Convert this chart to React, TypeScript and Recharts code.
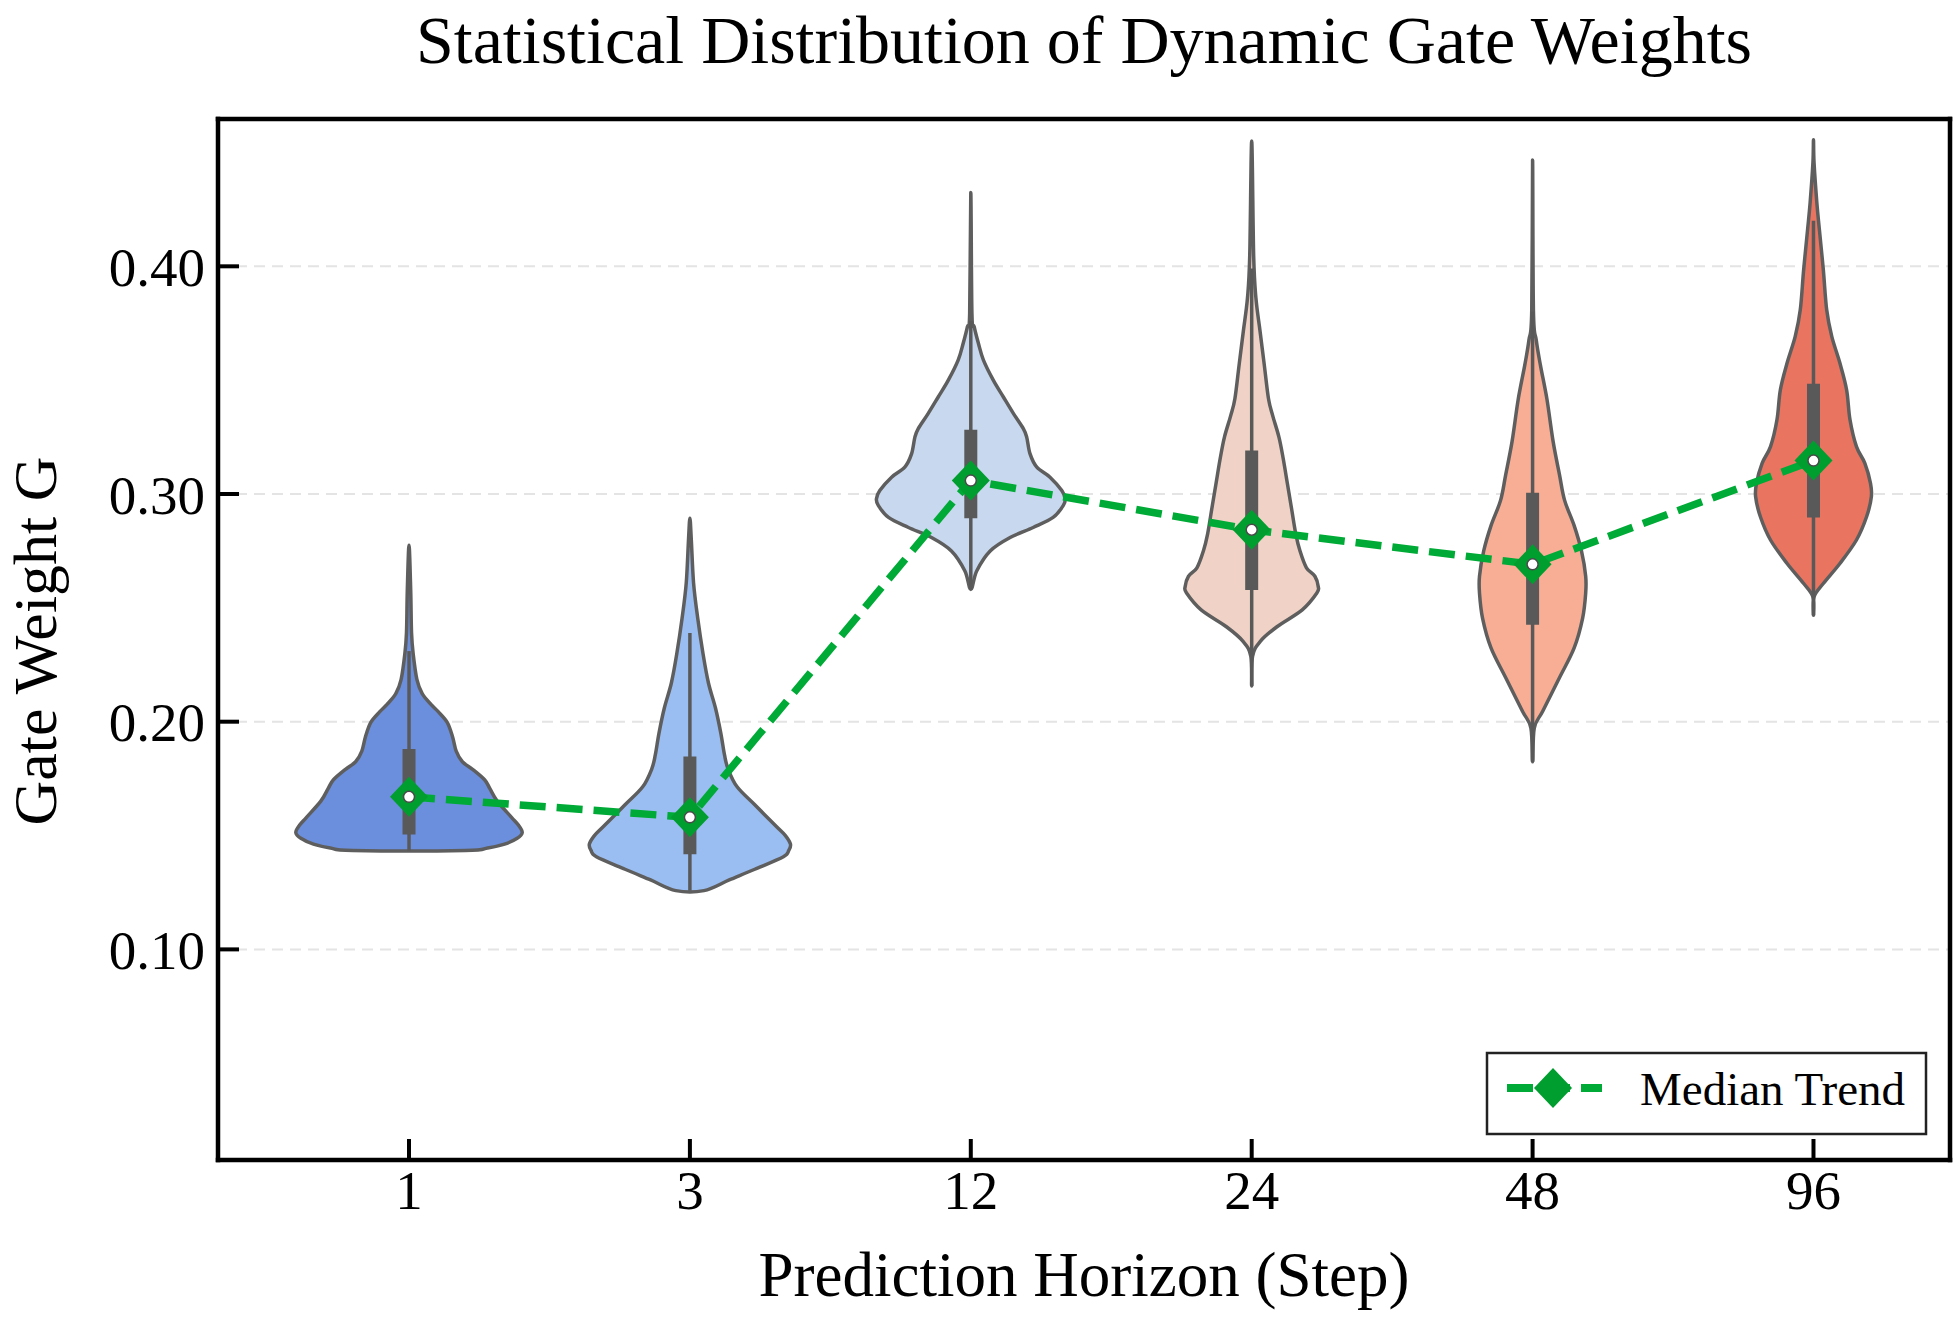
import React from "react";
import { ComposedChart, Scatter, XAxis, YAxis, CartesianGrid, Customized } from "recharts";

const horizons = ["1", "3", "12", "24", "48", "96"];
const violinColors = ["#6b8fdc", "#9bbef2", "#c8d8ee", "#f0d3c6", "#f8ae95", "#e97561"];

// medians and box / whisker extents per horizon
const medians = [0.167, 0.158, 0.3059, 0.2843, 0.2691, 0.3147];
const q1 = [0.1505, 0.1418, 0.2894, 0.2578, 0.2426, 0.2897];
const q3 = [0.188, 0.1847, 0.3282, 0.3191, 0.3006, 0.3484];
const whiskerLow = [0.1434, 0.1258, 0.2581, 0.2157, 0.1824, 0.2468];
const whiskerHigh = [0.231, 0.239, 0.376, 0.399, 0.38, 0.42];

// violin outlines: [gate weight, half width in category units], bottom to top
const violin1 = [
  [0.1434, 0.2], [0.1445, 0.28], [0.1462, 0.34], [0.1488, 0.385], [0.1513, 0.403],
  [0.1545, 0.39], [0.158, 0.365], [0.1651, 0.314], [0.1706, 0.288], [0.1745, 0.269],
  [0.1792, 0.225], [0.1824, 0.19], [0.1871, 0.168], [0.1934, 0.155], [0.1997, 0.136],
  [0.2044, 0.104], [0.2075, 0.079], [0.2123, 0.047], [0.2186, 0.028], [0.2296, 0.015],
  [0.239, 0.009], [0.2579, 0.006], [0.2775, 0],
];
const violin3 = [
  [0.1258, 0.05], [0.1305, 0.14], [0.1352, 0.231], [0.1407, 0.333], [0.1435, 0.352],
  [0.1462, 0.358], [0.15, 0.34], [0.1541, 0.307], [0.1635, 0.231], [0.1714, 0.168],
  [0.1792, 0.136], [0.1855, 0.123], [0.195, 0.11], [0.206, 0.091], [0.217, 0.066],
  [0.2296, 0.047], [0.2453, 0.028], [0.261, 0.013], [0.2799, 0.005], [0.2893, 0],
];
const violin12 = [
  [0.2581, 0], [0.2662, 0.021], [0.275, 0.069], [0.2809, 0.14], [0.2853, 0.222],
  [0.2897, 0.293], [0.2949, 0.329], [0.2978, 0.336], [0.3015, 0.324], [0.3074, 0.282],
  [0.3118, 0.235], [0.3176, 0.211], [0.325, 0.199], [0.3287, 0.187], [0.3353, 0.152],
  [0.3426, 0.116], [0.35, 0.08], [0.3588, 0.045], [0.3662, 0.027], [0.3735, 0.012],
  [0.3794, 0.004], [0.4324, 0],
];
const violin24 = [
  [0.2157, 0], [0.2287, 0.003], [0.2352, 0.03], [0.2417, 0.09], [0.2491, 0.18],
  [0.2565, 0.232], [0.2593, 0.237], [0.2639, 0.225], [0.2676, 0.195], [0.275, 0.172],
  [0.2824, 0.157], [0.2935, 0.142], [0.3046, 0.127], [0.3157, 0.112], [0.325, 0.097],
  [0.3343, 0.075], [0.3417, 0.06], [0.3565, 0.045], [0.3713, 0.03], [0.3861, 0.015],
  [0.4046, 0.007], [0.455, 0],
];
const violin48 = [
  [0.1824, 0], [0.1972, 0.006], [0.2046, 0.036], [0.2194, 0.096], [0.2324, 0.148],
  [0.2454, 0.178], [0.2565, 0.189], [0.2639, 0.189], [0.275, 0.174], [0.2861, 0.148],
  [0.2972, 0.114], [0.3083, 0.096], [0.3231, 0.073], [0.3417, 0.051], [0.3565, 0.028],
  [0.3676, 0.013], [0.3806, 0.003], [0.4467, 0],
];
const violin96 = [
  [0.2468, 0], [0.2548, 0.002], [0.2607, 0.035], [0.2695, 0.094], [0.2798, 0.153],
  [0.29, 0.189], [0.2988, 0.206], [0.3047, 0.203], [0.3135, 0.183], [0.3208, 0.153],
  [0.3326, 0.13], [0.3457, 0.118], [0.3575, 0.094], [0.3692, 0.065], [0.3809, 0.047],
  [0.3985, 0.035], [0.4161, 0.021], [0.4279, 0.012], [0.4455, 0.002], [0.4556, 0],
];
const violins = [violin1, violin3, violin12, violin24, violin48, violin96];

const yTicks = [0.1, 0.2, 0.3, 0.4];
const xTicks = [0, 1, 2, 3, 4, 5];

const FONT = "'Liberation Serif', 'Times New Roman', serif";
const EDGE = "#5e5e5e";
const GREEN = "#00aa36";

// outline points: right side going up, then left side coming down
function outline(profile: number[][], i: number) {
  const right = profile.map(([y, w]) => ({ x: i + w, y }));
  const left = profile
    .filter(([, w]) => w > 0)
    .reverse()
    .map(([y, w]) => ({ x: i - w, y }));
  return [...right, ...left];
}

function smoothClosed(pts: { x: number; y: number }[]) {
  const n = pts.length;
  let d = `M${pts[0].x},${pts[0].y}`;
  for (let k = 0; k < n; k++) {
    const p0 = pts[(k - 1 + n) % n];
    const p1 = pts[k];
    const p2 = pts[(k + 1) % n];
    const p3 = pts[(k + 2) % n];
    const c1x = p1.x + (p2.x - p0.x) / 6;
    const c1y = p1.y + (p2.y - p0.y) / 6;
    const c2x = p2.x - (p3.x - p1.x) / 6;
    const c2y = p2.y - (p3.y - p1.y) / 6;
    d += `C${c1x},${c1y} ${c2x},${c2y} ${p2.x},${p2.y}`;
  }
  return d + "Z";
}

const violinLine = (color: string) => (props: any) => (
  <path
    d={smoothClosed(props.points)}
    fill={color}
    stroke={EDGE}
    strokeWidth={3.5}
    strokeLinejoin="round"
  />
);

// draws one vertical segment per consecutive pair of points
const pairLine = (width: number) => (props: any) => {
  const pts = props.points;
  const segs = [];
  for (let k = 0; k + 1 < pts.length; k += 2) {
    segs.push(
      <line key={k} x1={pts[k].x} y1={pts[k].y} x2={pts[k + 1].x} y2={pts[k + 1].y} stroke="#595959" strokeWidth={width} />
    );
  }
  return <g>{segs}</g>;
};

const NoDot = () => <g />;

const Diamond = (props: any) => {
  const { cx, cy } = props;
  return <polygon points={`${cx},${cy - 20} ${cx + 19},${cy} ${cx},${cy + 20} ${cx - 19},${cy}`} fill="#009e2e" />;
};

const MedianDot = (props: any) => (
  <circle cx={props.cx} cy={props.cy} r={5.5} fill="#ffffff" stroke="#4a4a4a" strokeWidth={1.5} />
);

const Annotations = () => (
  <g fontFamily={FONT} fill="#000">
    <text x={1084} y={63} fontSize={68} textAnchor="middle">
      Statistical Distribution of Dynamic Gate Weights
    </text>
    <text x={1084} y={1296} fontSize={63} textAnchor="middle">
      Prediction Horizon (Step)
    </text>
    <text transform="translate(56,641) rotate(-90)" fontSize={62} textAnchor="middle">
      Gate Weight G
    </text>
    <rect x={1487} y={1053} width={439} height={81} fill="#fff" stroke="#222" strokeWidth={2.5} />
    <line x1={1507} y1={1088} x2={1602} y2={1088} stroke={GREEN} strokeWidth={8} strokeDasharray="26 11" />
    <polygon points="1553,1068 1572,1088 1553,1108 1534,1088" fill="#009e2e" />
    <text x={1640} y={1105} fontSize={47}>
      Median Trend
    </text>
  </g>
);

export default function App() {
  const medianData = medians.map((y, i) => ({ x: i, y }));
  const boxData = q1.flatMap((lo, i) => [{ x: i, y: lo }, { x: i, y: q3[i] }]);
  const whiskerData = whiskerLow.flatMap((lo, i) => [{ x: i, y: lo }, { x: i, y: whiskerHigh[i] }]);
  const axisStroke = { stroke: "#000", strokeWidth: 4.5, strokeLinecap: "square" as const };
  const tickStroke = { stroke: "#000", strokeWidth: 4 };
  const xDomain = [-0.68, 5.486];
  const yDomain = [0.0075, 0.4647];

  return (
    <div style={{ position: "absolute", left: 0, top: 0, background: "#fff" }}>
      <ComposedChart width={1959} height={1320} margin={{ top: 118, right: 8, bottom: 0, left: 0 }}>
        <CartesianGrid vertical={false} stroke="#e4e4e4" strokeWidth={2} strokeDasharray="11 7" />
        <XAxis
          dataKey="x"
          type="number"
          domain={xDomain}
          allowDataOverflow
          ticks={xTicks}
          interval={0}
          tickFormatter={(v) => horizons[v]}
          height={160}
          tickSize={-21}
          tickMargin={31}
          axisLine={axisStroke}
          tickLine={tickStroke}
          tick={{ fontSize: 55, fontFamily: FONT, fill: "#000" }}
        />
        <XAxis
          xAxisId="top"
          orientation="top"
          dataKey="x"
          type="number"
          domain={xDomain}
          allowDataOverflow
          ticks={xTicks}
          interval={0}
          height={1}
          tickSize={-21}
          axisLine={axisStroke}
          tickLine={tickStroke}
          tick={false}
        />
        <YAxis
          dataKey="y"
          type="number"
          domain={yDomain}
          allowDataOverflow
          ticks={yTicks}
          interval={0}
          tickFormatter={(v) => v.toFixed(2)}
          width={218}
          tickSize={-21}
          tickMargin={34}
          axisLine={axisStroke}
          tickLine={tickStroke}
          tick={{ fontSize: 55, fontFamily: FONT, fill: "#000" }}
        />
        <YAxis
          yAxisId="right"
          orientation="right"
          dataKey="y"
          type="number"
          domain={yDomain}
          allowDataOverflow
          ticks={yTicks}
          interval={0}
          width={1}
          tickSize={-21}
          axisLine={axisStroke}
          tickLine={tickStroke}
          tick={false}
        />
        {violins.map((profile, i) => (
          <Scatter
            key={horizons[i]}
            name={`violin-${horizons[i]}`}
            data={outline(profile, i)}
            shape={NoDot}
            line={violinLine(violinColors[i])}
            legendType="none"
            isAnimationActive={false}
          />
        ))}
        <Scatter name="whiskers" data={whiskerData} shape={NoDot} line={pairLine(3.5)} legendType="none" isAnimationActive={false} />
        <Scatter name="boxes" data={boxData} shape={NoDot} line={pairLine(13)} legendType="none" isAnimationActive={false} />
        <Scatter
          name="Median Trend"
          data={medianData}
          shape={Diamond}
          line={{ stroke: GREEN, strokeWidth: 7.5, strokeDasharray: "26 11" }}
          lineJointType="linear"
          isAnimationActive={false}
        />
        <Scatter name="medians" data={medianData} shape={MedianDot} legendType="none" isAnimationActive={false} />
        <Customized component={<Annotations />} />
      </ComposedChart>
    </div>
  );
}
